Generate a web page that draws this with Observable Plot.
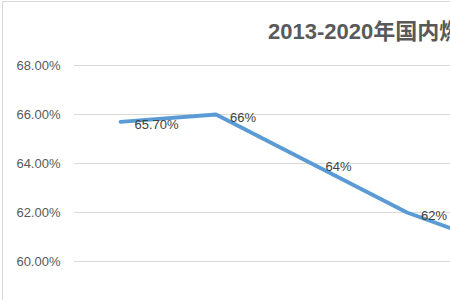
<!DOCTYPE html>
<html>
<head>
<meta charset="utf-8">
<script src="https://cdn.jsdelivr.net/npm/d3@7"></script>
<script src="https://cdn.jsdelivr.net/npm/@observablehq/plot@0.6"></script>
<style>
  html, body { margin: 0; padding: 0; background: #fff; overflow: hidden; width: 450px; height: 300px; }
  #wrap { position: relative; width: 450px; height: 300px; overflow: hidden; }
  #frame { position: absolute; left: 2px; top: 1px; width: 470px; height: 320px; border: 1px solid #d9d9d9; box-sizing: border-box; }
  #title { position: absolute; left: 268px; top: 13px; white-space: nowrap; font-family: "Liberation Sans", "Noto Sans CJK SC", sans-serif; font-weight: bold; font-size: 22px; color: #595959; }
  #chart { position: absolute; left: 0; top: 0; }
</style>
</head>
<body>
<div id="wrap">
  <div id="frame"></div>
  <div id="title">2013-2020年国内燃油车市场占有率</div>
  <div id="chart"></div>
</div>
<script>
const years = [2013, 2014, 2015, 2016, 2017];
const values = [65.7, 66, 64, 62, 60.6];
const labels = ["65.70%", "66%", "64%", "62%", ""];
const yTicks = [60, 62, 64, 66, 68];

const data = years.map((year, i) => ({year, value: values[i], label: labels[i]}));

const chart = Plot.plot({
  width: 450,
  height: 300,
  marginLeft: 74,
  marginRight: 0,
  marginTop: 0,
  marginBottom: 0,
  style: {fontFamily: "'Liberation Sans', sans-serif", background: "transparent", overflow: "hidden"},
  x: {type: "linear", domain: [2013, 2017], range: [120, 502], axis: null},
  y: {domain: [60, 68], range: [261, 65], axis: null},
  marks: [
    Plot.ruleY(yTicks, {stroke: "#d9d9d9", strokeWidth: 1}),
    Plot.axisY({ticks: yTicks, tickFormat: d => d.toFixed(2) + "%", tickSize: 0, tickPadding: 14, fontSize: 13, fill: "#595959", label: null}),
    Plot.line(data, {x: "year", y: "value", stroke: "#5b9bd5", strokeWidth: 3.8, curve: "linear", strokeLinejoin: "round", clip: true}),
    Plot.text(data.filter(d => d.label), {x: "year", y: "value", text: "label", dx: 14, dy: 3, textAnchor: "start", fill: "#404040", fontSize: 13})
  ]
});
document.getElementById("chart").appendChild(chart);
</script>
</body>
</html>
